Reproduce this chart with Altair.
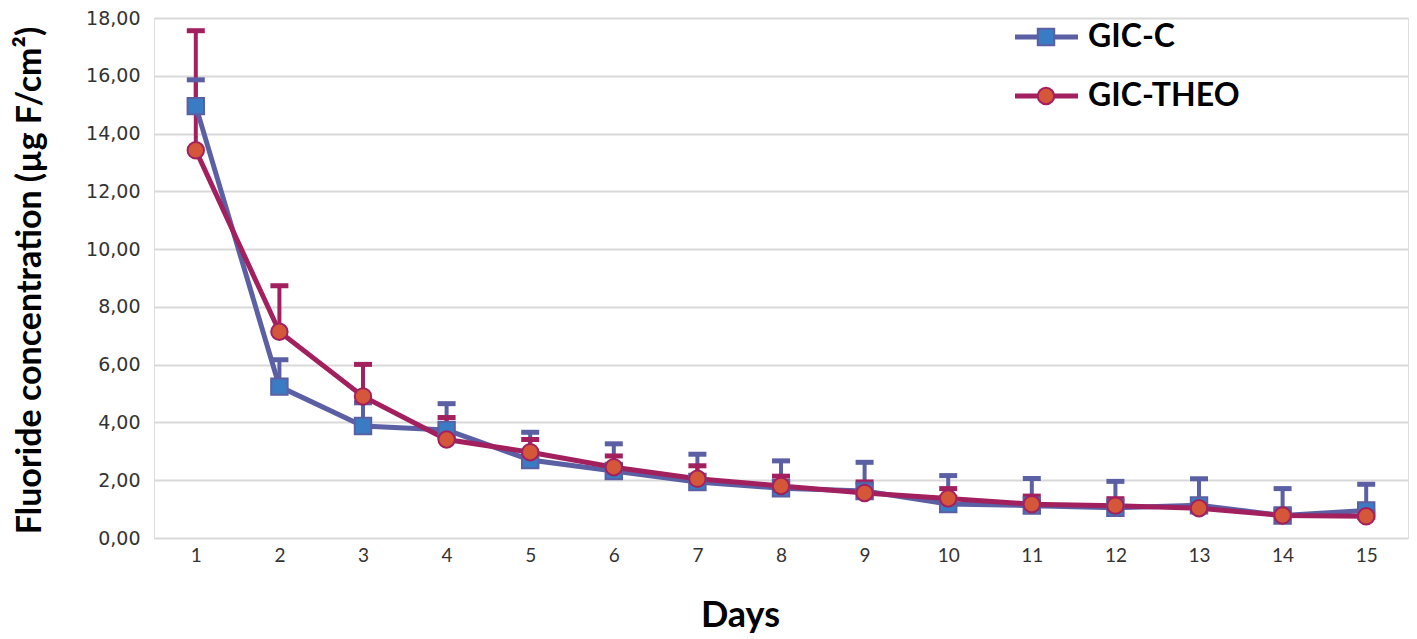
import altair as alt
import pandas as pd

days = list(range(1, 16))
series_names = ["GIC-C", "GIC-THEO"]
gic_c = [14.95, 5.24, 3.88, 3.74, 2.70, 2.32, 1.94, 1.72, 1.63, 1.18, 1.12, 1.05, 1.13, 0.78, 0.95]
gic_c_err = [0.91, 0.93, 0.80, 0.91, 0.96, 0.94, 0.96, 0.95, 0.99, 0.98, 0.94, 0.91, 0.92, 0.93, 0.91]
gic_theo = [13.42, 7.14, 4.90, 3.41, 2.97, 2.45, 2.05, 1.80, 1.56, 1.37, 1.17, 1.12, 1.03, 0.78, 0.75]
gic_theo_err = [4.14, 1.59, 1.11, 0.76, 0.44, 0.39, 0.45, 0.34, 0.38, 0.34, 0.28, 0.24, 0.20, 0.15, 0.15]
y_ticks = [0, 2, 4, 6, 8, 10, 12, 14, 16, 18]

line_colors = ["#5b5fa3", "#a3205f"]
fill_colors = ["#3a7cc3", "#d4573a"]
marker_shapes = ["square", "circle"]

rows = []
for name, vals, errs in [("GIC-C", gic_c, gic_c_err), ("GIC-THEO", gic_theo, gic_theo_err)]:
    for d, v, e in zip(days, vals, errs):
        rows.append({"day": d, "series": name, "value": v, "upper": v + e})
df = pd.DataFrame(rows)
legend_df = pd.DataFrame({"series": series_names, "row": [0, 1]})

x = alt.X("day:Q", scale=alt.Scale(domain=[0.5, 15.5], nice=False, zero=False),
          axis=alt.Axis(values=days, title="Days", grid=False, domain=False, ticks=False,
                        labelFont="Lato", labelFontSize=19, labelColor="#333333", labelPadding=8,
                        titleFont="Lato", titleFontSize=36, titleFontWeight="bold", titleColor="#000000",
                        titleX=586, titleY=77, titleBaseline="middle", titleAlign="center"))
y = alt.Y("value:Q", scale=alt.Scale(domain=[0, 18], nice=False),
          axis=alt.Axis(values=y_ticks, title="Fluoride concentration (µg F/cm²)",
                        labelExpr="replace(format(datum.value, '.2f'), '.', ',')",
                        domain=False, ticks=False, grid=True, gridColor="#d9d9d9", gridWidth=2,
                        labelFont="DejaVu Sans", labelFontSize=19, labelColor="#333333", labelPadding=14,
                        titleFont="Lato", titleFontSize=34, titleFontWeight="bold", titleColor="#000000",
                        titleX=-124, titleY=262, titleAngle=-90, titleAlign="center", titleBaseline="middle"))

stroke_scale = alt.Scale(domain=series_names, range=line_colors)
fill_scale = alt.Scale(domain=series_names, range=fill_colors)
shape_scale = alt.Scale(domain=series_names, range=marker_shapes)

base = alt.Chart(df)

err_rule = base.mark_rule(strokeWidth=4).encode(
    x=x, y=y, y2="upper:Q",
    stroke=alt.Stroke("series:N", scale=stroke_scale, legend=None))
err_cap = base.mark_tick(orient="horizontal", size=18, thickness=5, opacity=1).encode(
    x=x, y=alt.Y("upper:Q"),
    color=alt.Color("series:N", scale=stroke_scale, legend=None))
line = base.mark_line(strokeWidth=5).encode(
    x=x, y=y,
    stroke=alt.Stroke("series:N", scale=stroke_scale, legend=None))
points = base.mark_point(filled=True, size=270, strokeWidth=2, opacity=1).encode(
    x=x, y=y,
    fill=alt.Fill("series:N", scale=fill_scale, legend=None),
    stroke=alt.Stroke("series:N", scale=stroke_scale, legend=None),
    shape=alt.Shape("series:N", scale=shape_scale, legend=None))

main = alt.layer(err_rule, err_cap, line, points)

# legend (drawn inside the plot, top right)
ly = alt.Y("row:Q", scale=alt.Scale(domain=[0, 1], range=[19, 78], nice=False, zero=False), axis=None)
lbase = alt.Chart(legend_df)
leg_line = lbase.mark_rule(strokeWidth=5).encode(
    x=alt.value(861), x2=alt.value(924), y=ly,
    stroke=alt.Stroke("series:N", scale=stroke_scale, legend=None))
leg_pt = lbase.mark_point(filled=True, size=270, strokeWidth=2, opacity=1).encode(
    x=alt.value(892), y=ly,
    fill=alt.Fill("series:N", scale=fill_scale, legend=None),
    stroke=alt.Stroke("series:N", scale=stroke_scale, legend=None),
    shape=alt.Shape("series:N", scale=shape_scale, legend=None))
leg_txt = lbase.mark_text(align="left", baseline="middle", font="Lato", fontSize=32,
                          fontWeight="bold", color="#000000").encode(
    x=alt.value(934), y=ly, text="series:N")
leg = alt.layer(leg_line, leg_pt, leg_txt)

chart = alt.layer(main, leg).resolve_scale(y="independent").properties(
    width=1254, height=520,
    autosize=alt.AutoSizeParams(type="none"),
    padding={"left": 146, "top": 10, "right": 1, "bottom": 100},
).configure_view(stroke=None).configure(background="#ffffff")

chart.save("out.html", embed_options={"renderer": "svg", "actions": False})
